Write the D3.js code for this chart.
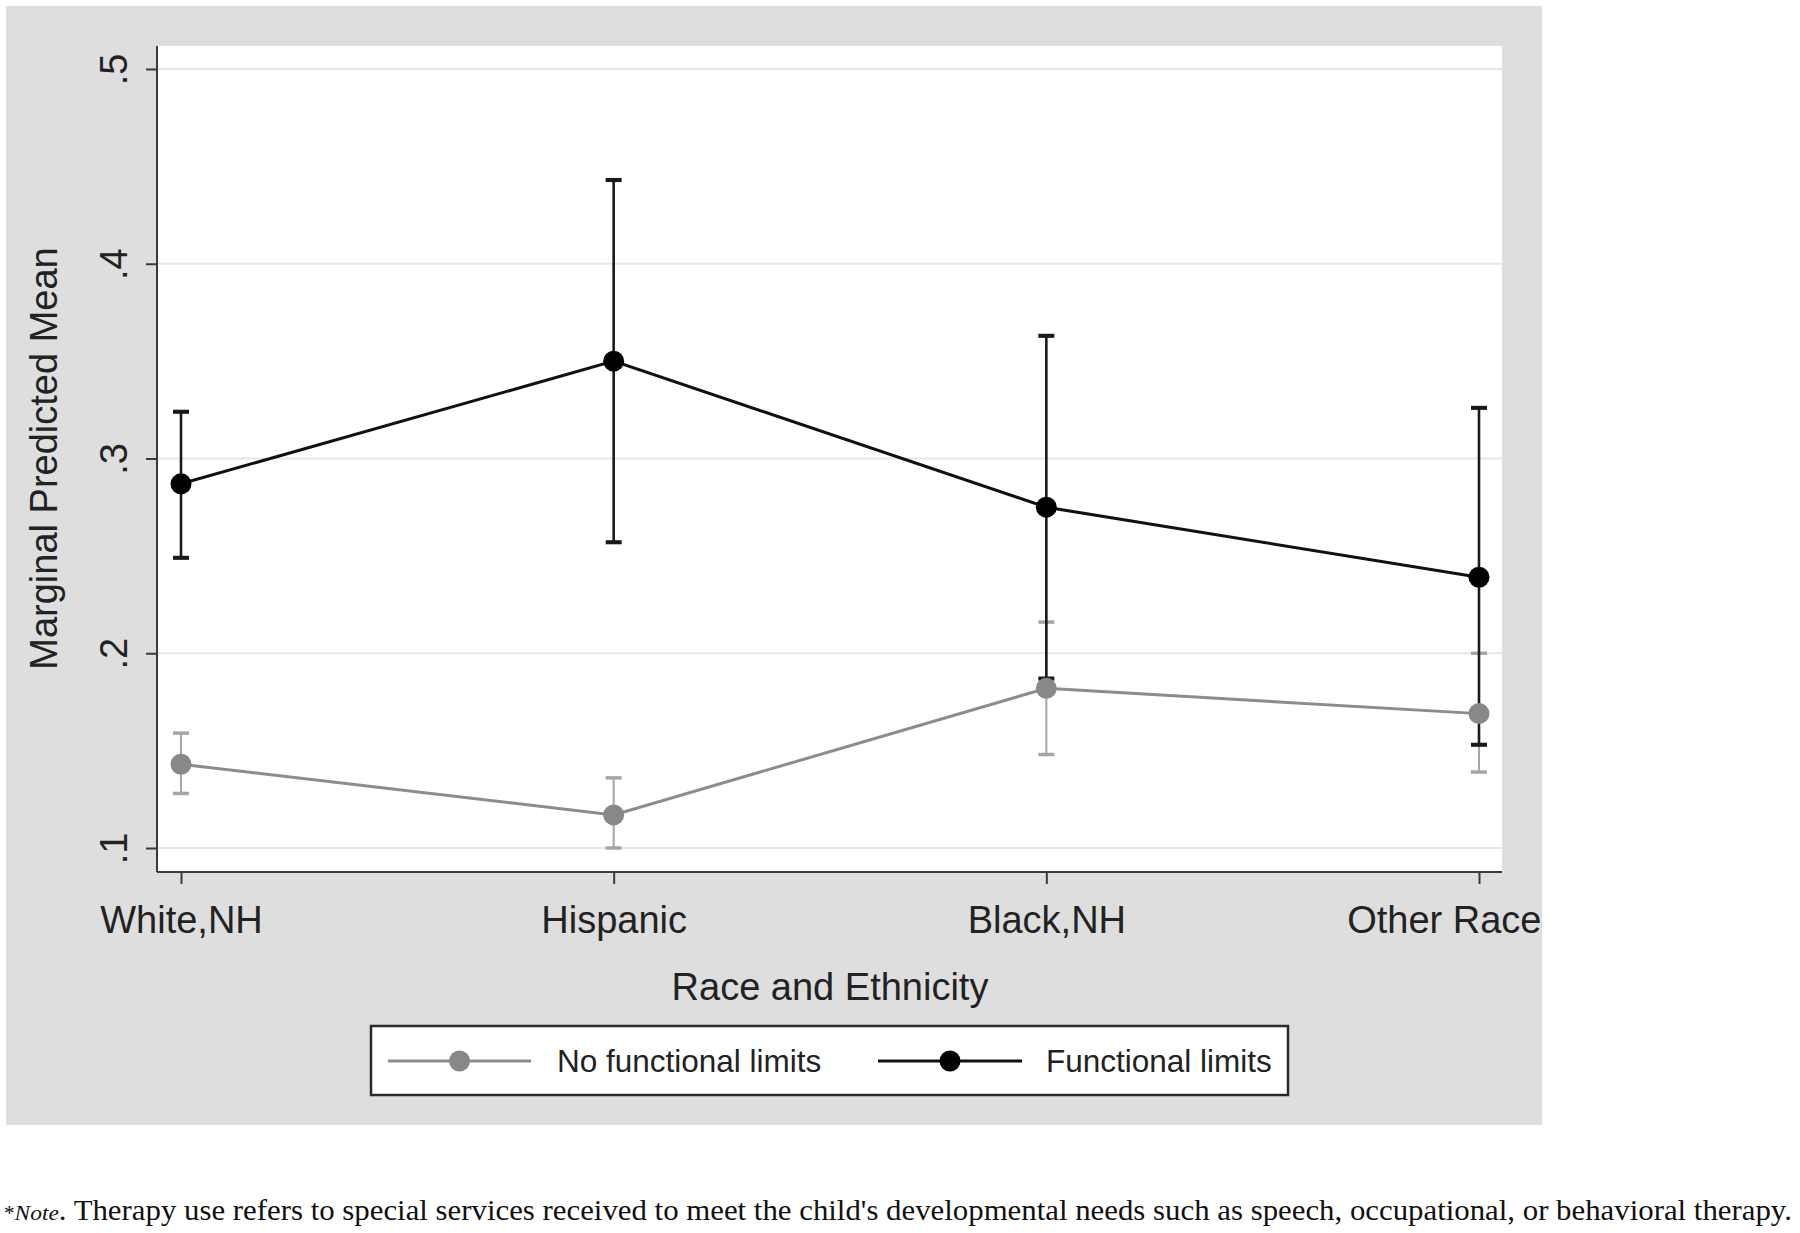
<!DOCTYPE html>
<html>
<head>
<meta charset="utf-8">
<script src="https://cdn.jsdelivr.net/npm/d3@7"></script>
<style>
  body { margin: 0; background: #fff; }
  svg { display: block; }
</style>
</head>
<body>
<svg width="1800" height="1233"></svg>
<script>
const svg = d3.select("svg");

// data
let categories = ["White,NH", "Hispanic", "Black,NH", "Other Race"];
let yTicks = [0.1, 0.2, 0.3, 0.4, 0.5];
let yTickLabels = [".1", ".2", ".3", ".4", ".5"];

let noLimitsMean = [0.143, 0.117, 0.182, 0.169];
let noLimitsLow = [0.128, 0.100, 0.148, 0.139];
let noLimitsHigh = [0.159, 0.136, 0.216, 0.200];

let limitsMean = [0.287, 0.350, 0.275, 0.239];
let limitsLow = [0.249, 0.257, 0.187, 0.153];
let limitsHigh = [0.324, 0.443, 0.363, 0.326];

let seriesNames = ["No functional limits", "Functional limits"];

let series = [
  { name: seriesNames[0], mean: noLimitsMean, lo: noLimitsLow, hi: noLimitsHigh,
    line: "#8c8c8c", dot: "#888888", ci: "#a6a6a6", ciWidth: 2 },
  { name: seriesNames[1], mean: limitsMean, lo: limitsLow, hi: limitsHigh,
    line: "#111111", dot: "#000000", ci: "#1a1a1a", ciWidth: 2.6 },
];

const font = "'Liberation Sans', Arial, Helvetica, sans-serif";

// layout
const plot = { left: 157, right: 1502, top: 46, bottom: 872 };
const panelRight = 1542;

let x = d3.scalePoint().domain(categories).range([181, 1479]);
let y = d3.scaleLinear().domain([0.1, 0.5]).range([848, 69]);

// outer grey panel
svg.append("rect")
  .attr("x", 6).attr("y", 6)
  .attr("width", panelRight - 6).attr("height", 1119)
  .attr("fill", "#dedede");

// plot region
svg.append("rect")
  .attr("x", plot.left).attr("y", plot.top)
  .attr("width", plot.right - plot.left).attr("height", plot.bottom - plot.top)
  .attr("fill", "#ffffff");

// gridlines
svg.append("g")
  .selectAll("line")
  .data(yTicks)
  .enter()
  .append("line")
  .attr("x1", plot.left).attr("x2", plot.right)
  .attr("y1", d => y(d)).attr("y2", d => y(d))
  .attr("stroke", "#e6e6e6")
  .attr("stroke-width", 2);

// y axis
let yAxis = svg.append("g")
  .attr("transform", `translate(${plot.left},0)`)
  .call(d3.axisLeft(y).tickValues(yTicks).tickSize(11).tickFormat(""));
yAxis.select(".domain").attr("d", `M0,${plot.top}V${plot.bottom}`);
yAxis.selectAll("path, line").attr("stroke", "#3a3a3a").attr("stroke-width", 2);

yAxis.selectAll(".tick")
  .append("text")
  .attr("transform", "translate(-30,0) rotate(-90)")
  .attr("text-anchor", "middle")
  .attr("fill", "#222")
  .style("font-family", font)
  .style("font-size", "38px")
  .text((d, i) => yTickLabels[i]);

// x axis
let xAxis = svg.append("g")
  .attr("transform", `translate(0,${plot.bottom})`)
  .call(d3.axisBottom(x).tickSize(12).tickFormat(""));
xAxis.select(".domain").attr("d", `M${plot.left},0H${plot.right}`);
xAxis.selectAll("path, line").attr("stroke", "#3a3a3a").attr("stroke-width", 2);

xAxis.selectAll(".tick")
  .append("text")
  .attr("y", 61)
  .attr("text-anchor", "middle")
  .attr("fill", "#222")
  .style("font-family", font)
  .style("font-size", "38px")
  .text(d => d)
  .each(function(d) {
    // the last label is pushed inside the grey panel, as Stata does
    const w = this.getComputedTextLength();
    const over = x(d) + w / 2 - (panelRight - 1);
    if (over > 0) d3.select(this).attr("x", -over);
  });

// axis titles
svg.append("text")
  .attr("transform", `translate(57,${y(0.3)}) rotate(-90)`)
  .attr("text-anchor", "middle")
  .attr("fill", "#222")
  .style("font-family", font)
  .style("font-size", "38px")
  .text("Marginal Predicted Mean");

svg.append("text")
  .attr("x", 830).attr("y", 1000)
  .attr("text-anchor", "middle")
  .attr("fill", "#222")
  .style("font-family", font)
  .style("font-size", "38px")
  .text("Race and Ethnicity");

// confidence intervals first, then the connected lines
const cap = 8;
series.forEach(s => {
  let g = svg.append("g");
  categories.forEach((c, i) => {
    let cx = x(c);
    g.append("line")
      .attr("x1", cx).attr("x2", cx)
      .attr("y1", y(s.lo[i])).attr("y2", y(s.hi[i]))
      .attr("stroke", s.ci).attr("stroke-width", s.ciWidth);
    [s.lo[i], s.hi[i]].forEach(v => {
      g.append("line")
        .attr("x1", cx - cap).attr("x2", cx + cap)
        .attr("y1", y(v)).attr("y2", y(v))
        .attr("stroke", s.ci).attr("stroke-width", s.ciWidth + 1.5);
    });
  });
});

let line = d3.line()
  .x(d => x(d.c))
  .y(d => y(d.v));

series.forEach(s => {
  let pts = categories.map((c, i) => ({ c: c, v: s.mean[i] }));
  svg.append("path")
    .datum(pts)
    .attr("d", line)
    .attr("fill", "none")
    .attr("stroke", s.line)
    .attr("stroke-width", 3);
  svg.append("g")
    .selectAll("circle")
    .data(pts)
    .enter()
    .append("circle")
    .attr("cx", d => x(d.c))
    .attr("cy", d => y(d.v))
    .attr("r", 10.5)
    .attr("fill", s.dot);
});

// legend
let legend = svg.append("g");
legend.append("rect")
  .attr("x", 371).attr("y", 1026)
  .attr("width", 917).attr("height", 69)
  .attr("fill", "#fff")
  .attr("stroke", "#2a2a2a")
  .attr("stroke-width", 2.5);

let legendItems = [
  { s: series[0], x0: 388, x1: 531, tx: 557 },
  { s: series[1], x0: 878, x1: 1022, tx: 1046 },
];
legendItems.forEach(it => {
  legend.append("line")
    .attr("x1", it.x0).attr("x2", it.x1)
    .attr("y1", 1061).attr("y2", 1061)
    .attr("stroke", it.s.line).attr("stroke-width", 3);
  legend.append("circle")
    .attr("cx", (it.x0 + it.x1) / 2).attr("cy", 1061)
    .attr("r", 10.5)
    .attr("fill", it.s.dot);
  legend.append("text")
    .attr("x", it.tx).attr("y", 1072)
    .attr("fill", "#222")
    .style("font-family", font)
    .style("font-size", "31.5px")
    .text(it.s.name);
});

// footnote
let note = svg.append("text")
  .attr("x", 4).attr("y", 1220)
  .attr("fill", "#111")
  .style("font-family", "'Liberation Serif', 'Times New Roman', serif")
  .style("font-size", "29px")
  .attr("textLength", 1788)
  .attr("lengthAdjust", "spacingAndGlyphs");
note.append("tspan").style("font-size", "20px").text("*");
note.append("tspan").style("font-style", "italic").style("font-size", "22px").text("Note");
note.append("tspan").text(". Therapy use refers to special services received to meet the child's developmental needs such as speech, occupational, or behavioral therapy.");
</script>
</body>
</html>
